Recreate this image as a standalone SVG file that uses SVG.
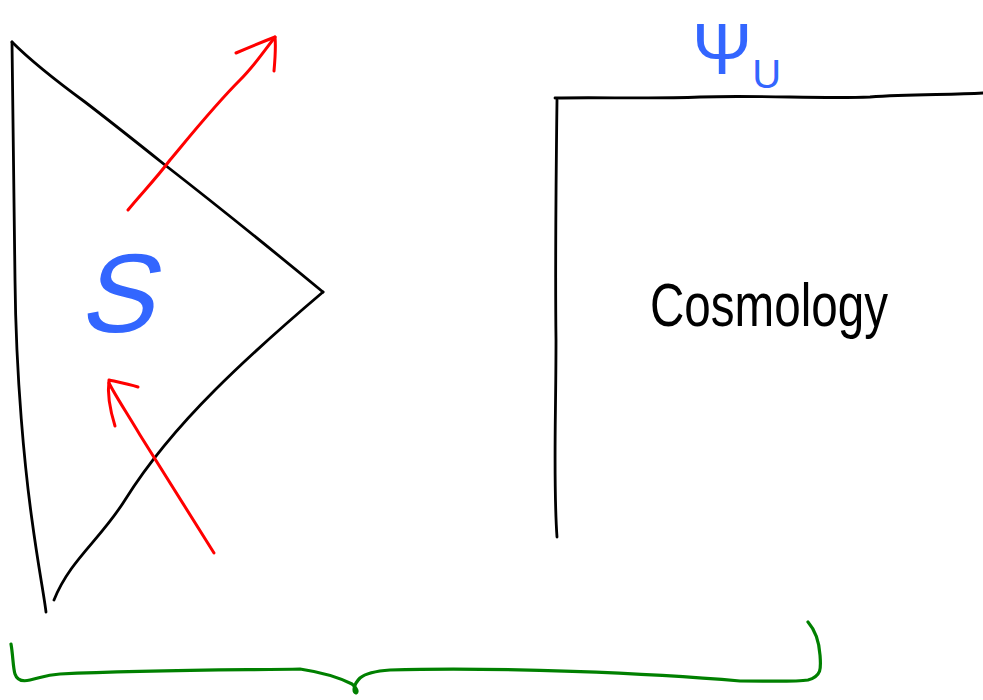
<svg xmlns="http://www.w3.org/2000/svg" width="983" height="700" viewBox="0 0 983 700">
<style>
.ink{fill:none;stroke:#000;stroke-width:2.8;stroke-linecap:round;stroke-linejoin:round}
.red{fill:none;stroke:#ff0000;stroke-width:3;stroke-linecap:round;stroke-linejoin:round}
.grn{fill:none;stroke:#008000;stroke-width:3.2;stroke-linecap:round;stroke-linejoin:round}
.blue{fill:#3366ff;font-family:"Liberation Sans","DejaVu Sans",sans-serif}
.hand{fill:#000;font-family:"Liberation Sans","DejaVu Sans",sans-serif}
</style>
<rect width="983" height="700" fill="#fff"/>
<g id="region-s">
<path class="ink" d="M12,42 C13,120 14,200 15,280 C16,380 25,470 32,520 C38,565 44,595 46,612"/>
<path class="ink" d="M12,42 C30,60 55,80 85,102 C115,125 140,145 165,165 C210,200 260,240 323,292"/>
<path class="ink" d="M323,292 C290,320 250,355 215,390 C180,425 150,460 125,500 C100,540 70,560 54,600"/>
<text class="blue" x="0" y="0" font-size="112" transform="translate(78,332) skewX(-14)">S</text>
</g>
<g id="region-cosmology">
<path class="ink" d="M555,98 C600,97 650,99 700,97 C760,95 820,99 870,97 C910,94 950,95 983,93"/>
<path class="ink" d="M557,100 C556,180 555,260 556,340 C556,420 553,480 557,537"/>
<text class="hand" x="650" y="326" font-size="62" textLength="238" lengthAdjust="spacingAndGlyphs">Cosmology</text>
<text class="blue" x="692" y="74" font-size="72">Ψ<tspan font-size="40" dy="14">U</tspan></text>
</g>
<g id="connectors">
<path class="red" d="M128,210 C140,195 155,180 170,160 C195,130 215,105 240,80 C255,65 265,50 275,37"/>
<path class="red" d="M236,53 C250,47 262,42 275,37 C276,48 275,60 274,71"/>
<path class="red" d="M214,553 C190,515 165,475 140,435 C125,410 115,395 109,383"/>
<path class="red" d="M115,426 C110,410 107,395 109,380 C118,382 128,384 138,387"/>
<path class="grn" d="M11,644 C13,655 13,668 15,674 C17,680 22,682 30,680 C40,678 45,675 60,674 C150,670 250,670 300,669 C320,672 340,678 352,684 C357,688 358,692 356,693 C353,692 353,685 360,678 C366,673 375,671 390,670 C500,667 650,673 740,681 C770,681 795,682 808,680 C822,676 821,668 820,655 C819,640 815,630 808,622"/>
</g>
</svg>
